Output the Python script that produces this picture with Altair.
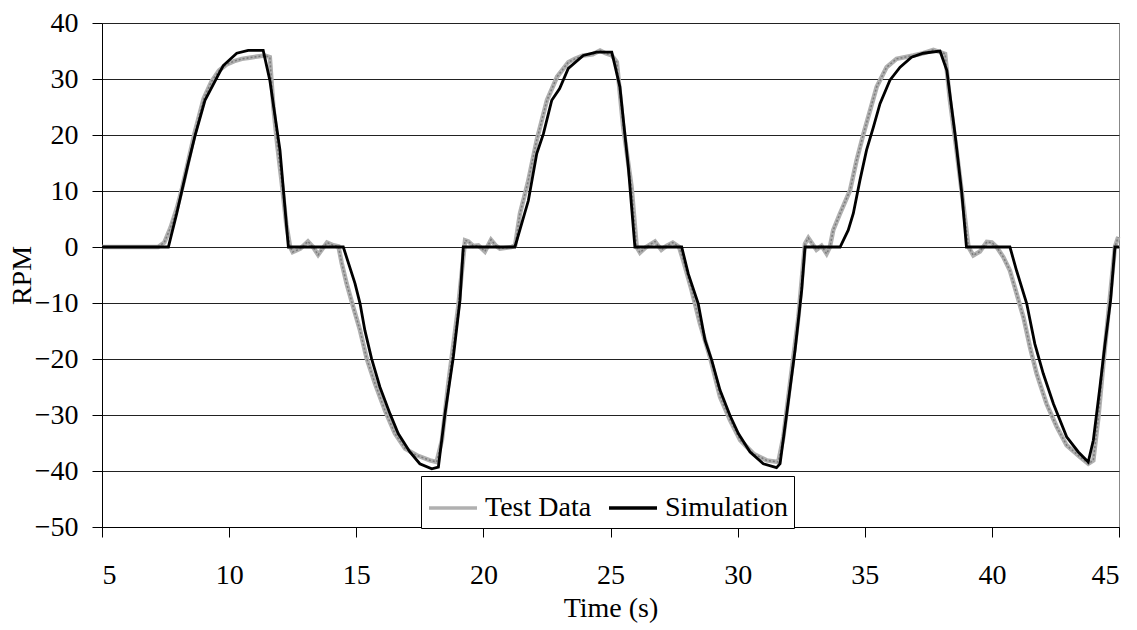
import altair as alt
import pandas as pd

# ---- data ----
sim_t = [5.0, 7.61, 7.94, 8.13, 8.39, 8.66, 9.05, 9.57, 9.77, 10.3, 10.75, 11.34, 11.6, 12.0, 12.33,
         14.49, 14.95, 15.15, 15.34, 15.6, 15.93, 16.33, 16.65, 17.11, 17.5, 17.97, 18.23, 18.49, 18.82, 19.08, 19.21,
         21.24, 21.77, 22.1, 22.36, 22.69, 23.0, 23.34, 23.93, 24.45, 25.05, 25.37, 25.7, 25.96,
         27.8, 28.06, 28.45, 28.72, 28.98, 29.31, 29.7, 30.03, 30.49, 31.01, 31.53, 31.67, 31.93, 32.26, 32.52, 32.65,
         34.03, 34.35, 34.55, 34.81, 35.07, 35.34, 35.6, 35.99, 36.39, 36.84, 37.3, 37.96, 38.23, 38.55, 38.82, 39.0,
         40.71, 40.97, 41.37, 41.69, 42.02, 42.42, 42.94, 43.4, 43.79, 43.99, 44.25, 44.45, 44.67, 44.84, 45.0]
sim_v = [0.0, 0.0, 6.0, 9.8, 14.9, 19.9, 26.2, 30.7, 32.4, 34.6, 35.1, 35.1, 29.8, 17.3, 0.0,
         0.0, -6.5, -10.1, -14.9, -19.9, -25.0, -29.8, -33.3, -36.6, -38.7, -39.6, -39.3, -29.8, -19.6, -9.5, 0.0,
         0.0, 8.3, 16.7, 20.2, 26.2, 28.3, 31.9, 34.2, 34.8, 34.8, 28.6, 14.3, 0.0,
         0.0, -4.8, -10.1, -16.7, -20.2, -25.6, -30.1, -33.3, -36.6, -38.7, -39.4, -38.7, -29.8, -18.4, -7.7, 0.0,
         0.0, 3.0, 6.0, 11.9, 17.3, 21.4, 25.6, 29.8, 32.1, 33.9, 34.6, 35.0, 31.5, 20.2, 9.5, 0.0,
         0.0, -4.2, -10.1, -17.3, -22.6, -28.0, -33.9, -36.6, -38.4, -34.5, -25.0, -17.3, -9.5, 0.0, 0.0]

test_t = [5.0, 7.2, 7.45, 7.7, 7.95, 8.15, 8.4, 8.65, 9.0, 9.3, 9.6, 9.9, 10.2, 10.5, 10.8, 11.1, 11.4, 11.6,
          11.74, 11.9, 12.06, 12.25, 12.4, 12.5, 12.8, 13.1, 13.3, 13.5, 13.85, 14.1, 14.3,
          14.43, 14.62, 14.88, 15.15, 15.41, 15.74, 16.13, 16.52, 16.92, 17.38, 17.9, 18.16, 18.37, 18.62, 19.01,
          19.28, 19.41, 19.6, 19.8, 20.06, 20.3, 20.5, 20.65, 21.1, 21.25,
          21.44, 21.75, 22.1, 22.5, 22.9, 23.34, 23.6, 23.93, 24.3, 24.59, 24.8, 25.05, 25.25, 25.5, 25.83, 26.03,
          26.16, 26.4, 26.75, 27.0, 27.2, 27.45, 27.7,
          27.86, 28.19, 28.52, 28.91, 29.31, 29.7, 30.1, 30.62, 31.14, 31.6, 31.8, 32.06, 32.39, 32.65,
          32.78, 33.1, 33.3, 33.5, 33.63,
          33.76, 34.03, 34.42, 34.68, 34.95, 35.21, 35.47, 35.86, 36.25, 36.91, 37.3, 37.7, 38.16, 38.35, 38.61, 38.89, 39.08,
          39.27, 39.53, 39.8, 40.0, 40.19, 40.45,
          40.71, 40.97, 41.24, 41.5, 41.76, 42.15, 42.55, 42.94, 43.47, 43.79, 43.99, 44.19, 44.41, 44.62, 44.84, 44.97]
test_v = [0.0, 0.0, 0.8, 3.5, 7.0, 10.5, 15.5, 20.5, 26.5, 29.5, 31.5, 32.6, 33.2, 33.6, 33.8, 34.0, 34.2, 33.9,
          25.0, 18.0, 11.9, 4.0, 0.0, -0.9, -0.3, 1.0, 0.0, -1.4, 0.8, 0.3, 0.1,
          -2.9, -6.5, -10.7, -14.9, -19.9, -24.4, -29.2, -33.3, -36.0, -37.2, -38.1, -38.4, -34.5, -24.4, -10.7,
          1.2, 1.0, 0.2, 0.3, -0.8, 1.3, 0.2, -0.3, 0.0, 0.3,
          6.0, 11.5, 19.1, 26.2, 30.4, 33.0, 33.6, 34.2, 34.4, 35.1, 34.6, 34.2, 33.0, 21.4, 10.7, 0.0,
          -1.0, 0.0, 1.0, -0.5, 0.2, 0.8, 0.0,
          -2.4, -7.7, -13.7, -19.6, -26.8, -30.9, -34.5, -36.9, -38.1, -38.4, -33.9, -24.4, -12.5, 0.6,
          1.6, -0.5, 0.2, -1.2, 0.0,
          3.0, 6.0, 10.1, 15.5, 20.2, 24.4, 28.6, 32.1, 33.6, 34.2, 34.6, 35.2, 34.5, 26.2, 17.3, 7.1, 0.0,
          -1.5, -0.8, 0.9, 0.8, 0.0, -1.8,
          -4.2, -8.3, -12.5, -17.9, -22.6, -28.0, -32.1, -35.4, -37.5, -38.7, -38.1, -30.4, -19.6, -10.1, 0.0, 1.8]

series_names = ["Test Data", "Simulation"]
series_colors = ["#b0b0b0", "#000000"]
x_ticks = [5, 10, 15, 20, 25, 30, 35, 40, 45]
y_ticks = [-50, -40, -30, -20, -10, 0, 10, 20, 30, 40]

test_df = pd.DataFrame({"t": test_t, "rpm": test_v, "series": series_names[0]})
sim_df = pd.DataFrame({"t": sim_t, "rpm": sim_v, "series": series_names[1]})

FONT = "Liberation Serif"
FS = 28

x_enc = alt.X(
    "t:Q",
    scale=alt.Scale(domain=[5, 45], nice=False, zero=False),
    axis=alt.Axis(
        values=x_ticks, title="Time (s)", grid=False,
        labelFont=FONT, labelFontSize=FS, labelColor="black", labelPadding=24,
        tickSize=10, tickColor="black", domainColor="black",
        titleFont=FONT, titleFontSize=FS, titleFontWeight="normal", titleColor="black",
        titleBaseline="alphabetic", titleY=89,
    ),
)
y_enc = alt.Y(
    "rpm:Q",
    scale=alt.Scale(domain=[-50, 40], nice=False, zero=False),
    axis=alt.Axis(
        values=y_ticks, title="RPM", grid=True, gridColor="#222222", gridWidth=1,
        labelFont=FONT, labelFontSize=FS, labelColor="black", labelPadding=14,
        tickSize=10, tickColor="black", domainColor="black",
        titleFont=FONT, titleFontSize=FS, titleFontWeight="normal", titleColor="black",
        titleX=-80, titleBaseline="middle",
    ),
)

color_enc = alt.Color(
    "series:N",
    scale=alt.Scale(domain=series_names, range=series_colors),
    legend=alt.Legend(
        title=None, orient="none", legendX=319, legendY=453, direction="horizontal",
        symbolType="stroke", symbolSize=2304, symbolStrokeWidth=3.5,
        labelFont=FONT, labelFontSize=FS, labelColor="black", labelOffset=6,
        columnPadding=10, padding=6, strokeColor="black", fillColor="white",
        labelLimit=300,
    ),
)

test_line = alt.Chart(test_df).mark_line(strokeWidth=4.5).encode(x=x_enc, y=y_enc, color=color_enc)
test_tex = alt.Chart(test_df).mark_line(strokeWidth=1.5, color="#7c7c7c", strokeDash=[2, 2]).encode(
    x="t:Q", y="rpm:Q")
sim_line = alt.Chart(sim_df).mark_line(strokeWidth=2.8).encode(x=x_enc, y=y_enc, color=color_enc)

chart = (
    alt.layer(test_line, test_tex, sim_line)
    .properties(
        width=1017, height=504,
        autosize=alt.AutoSizeParams(type="none"),
        padding={"left": 102, "top": 23, "right": 18, "bottom": 103},
    )
    .configure(font=FONT)
    .configure_view(stroke="#888888", strokeWidth=1)
)

chart.save("out.html", embed_options={"renderer": "svg", "actions": False})
